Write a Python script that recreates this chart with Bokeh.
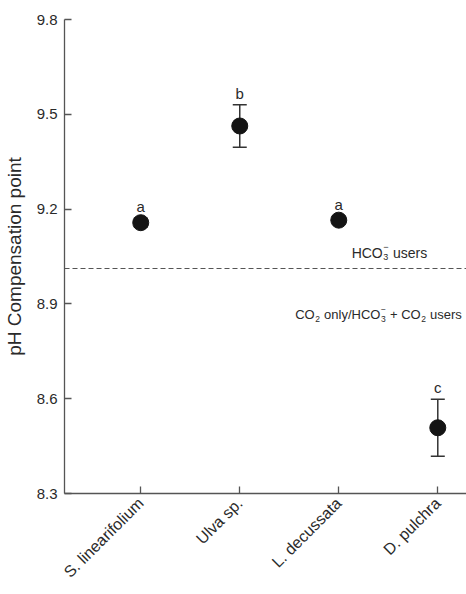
from math import pi
from bokeh.plotting import figure
from bokeh.models import (ColumnDataSource, FixedTicker, Whisker, TeeHead, Span, Range1d,
                          LabelSet)
from bokeh.core.properties import value
from bokeh.embed import file_html
from bokeh.resources import INLINE

# ---- data ----
species = ["S. linearifolium", "Ulva sp.", "L. decussata", "D. pulchra"]
ph_mean = [9.157, 9.463, 9.165, 8.508]
ph_err = [0.014, 0.067, 0.012, 0.090]
letters = ["a", "b", "a", "c"]
threshold = 9.012
y_ticks = [8.3, 8.6, 8.9, 9.2, 9.5, 9.8]

FONT = "Liberation Sans"
TXT = "#2a2a2a"
xpos = list(range(1, len(species) + 1))

src = ColumnDataSource(dict(
    x=xpos, mean=ph_mean,
    lower=[m - e for m, e in zip(ph_mean, ph_err)],
    upper=[m + e for m, e in zip(ph_mean, ph_err)],
    letter=letters,
))

p = figure(width=466, height=594, output_backend="svg", toolbar_location=None,
           x_range=Range1d(0.23, 4.29), y_range=Range1d(8.3, 9.8),
           min_border_left=60, min_border_right=0, min_border_top=19, min_border_bottom=101)
p.outline_line_color = None
p.xgrid.visible = False
p.ygrid.visible = False
p.background_fill_color = "white"
p.border_fill_color = "white"

# axes
for ax in (p.xaxis, p.yaxis):
    ax.axis_line_color = "#555555"
    ax.axis_line_width = 1.3
    ax.major_tick_line_color = "#555555"
    ax.major_tick_line_width = 1.3
    ax.major_tick_in = 7
    ax.major_tick_out = 0
    ax.minor_tick_line_color = None
    ax.major_label_text_font = FONT
    ax.major_label_text_font_size = "15px"
    ax.major_label_text_color = TXT

p.yaxis.ticker = FixedTicker(ticks=y_ticks)
p.yaxis.major_label_overrides = {t: f"{t:.1f}" for t in y_ticks}
p.yaxis.major_label_standoff = 7
p.yaxis.axis_label = "pH Compensation point"
p.yaxis.axis_label_text_font = FONT
p.yaxis.axis_label_text_font_size = "19px"
p.yaxis.axis_label_text_font_style = "normal"
p.yaxis.axis_label_text_color = TXT
p.yaxis.axis_label_standoff = 9

p.xaxis.ticker = FixedTicker(ticks=xpos)
p.xaxis.major_label_overrides = {x: s for x, s in zip(xpos, species)}
p.xaxis.major_label_orientation = pi / 4
p.xaxis.major_label_text_font_size = "16px"
p.xaxis.major_label_standoff = 7

# threshold line
p.add_layout(Span(location=threshold, dimension="width", line_color="#555555",
                  line_width=1, line_dash="5 3"))

# error bars
p.add_layout(Whisker(source=src, base="x", upper="upper", lower="lower",
                     line_color="#333333", line_width=1.5,
                     upper_head=TeeHead(size=14, line_color="#333333", line_width=1.5),
                     lower_head=TeeHead(size=14, line_color="#333333", line_width=1.5)))

# points
p.scatter("x", "mean", source=src, size=16, color="#141414")

# significance letters
p.add_layout(LabelSet(x="x", y="upper", text="letter", source=src, y_offset=6,
                      text_align="center", text_baseline="alphabetic",
                      text_font=value(FONT), text_font_size=value("15px"),
                      text_color=TXT))

# rich text helper (sub/superscripts) built from plain text pieces
W = {'H': .722, 'C': .722, 'O': .778, ' ': .278, 'u': .556, 's': .5, 'e': .556,
     'r': .333, 'o': .556, 'n': .556, 'l': .222, 'y': .5, '/': .278, '+': .584,
     '2': .556, '3': .556, '\u2212': .584}


def width(txt, size):
    return sum(W.get(c, .556) for c in txt) * size


def put(x, y, txt, off, yoff, size):
    p.text([x], [y], text=[txt], x_offset=off, y_offset=yoff, text_font=value(FONT),
           text_font_size=f"{size}px", text_color=TXT, text_baseline="alphabetic")


def rich(x, y, segments, size=14, small=9):
    off = 0.0
    for txt, kind in segments:
        if kind == "n":
            lead = len(txt) - len(txt.lstrip(" "))
            off += lead * W[' '] * size
            core = txt.strip(" ")
            put(x, y, core, off, 0, size)
            off += width(core, size)
            trail = len(txt) - len(txt.rstrip(" ")) if txt.strip(" ") else 0
            off += trail * W[' '] * size
        else:
            sub, sup = txt
            if sub:
                put(x, y, sub, off + 0.5, 4, small)
            if sup:
                put(x, y, sup, off + 0.5, -6, small)
            off += max(width(sub, small), width(sup, small)) + 1


rich(3.13, 9.06, [("HCO", "n"), (("3", "\u2212"), "s"), (" users", "n")], size=14)
rich(2.56, 8.866, [("CO", "n"), (("2", ""), "s"), (" only/HCO", "n"),
                   (("3", "\u2212"), "s"), (" + CO", "n"), (("2", ""), "s"),
                   (" users", "n")], size=13, small=8.5)

open("out.html", "w").write(file_html(p, INLINE))
